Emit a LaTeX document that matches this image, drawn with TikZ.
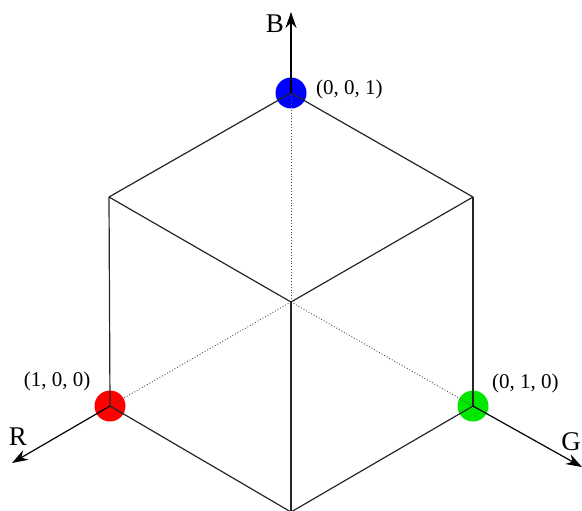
\documentclass[tikz,border=0pt]{standalone}
\usepackage{fontspec}
\setmainfont{Liberation Serif}
\usepackage{xcolor}
\usepackage{tikz}
\usetikzlibrary{arrows.meta, positioning}

\definecolor{rgbred}{RGB}{255,0,0}
\definecolor{rgbgreen}{RGB}{0,232,0}
\definecolor{rgbblue}{RGB}{0,0,255}

\begin{document}
\begin{tikzpicture}[
  x=0.5pt, y=-0.5pt,
  dot/.style={circle, inner sep=0pt, minimum size=15.5pt, draw=none},
  edge/.style={line width=0.6pt, black!85},
  hidden/.style={line width=0.45pt, black!70, densely dotted},
  axis/.style={-{Stealth[length=8pt, width=5.5pt]}, line width=0.6pt},
  axlab/.style={font=\fontsize{13.5}{15}\selectfont},
  vlab/.style={font=\fontsize{10.5}{12}\selectfont},
]
\useasboundingbox (0,0) rectangle (582,510);

% --- Cube corners ---
\coordinate (c)  at (291,302);
\coordinate (ul) at (109,197);
\coordinate (ur) at (473,197);
\coordinate (bt) at (291,512);

% --- Coloured corners ---
\node[dot, fill=rgbblue]  (blue)  at (291,93)  {};
\node[dot, fill=rgbred]   (red)   at (110,406) {};
\node[dot, fill=rgbgreen] (green) at (473,406) {};

% --- Axis tips ---
\coordinate (btip) at (291,12);
\coordinate (rtip) at (12,463);
\coordinate (gtip) at (582,467);

% --- Hidden edges ---
\draw[hidden] (c) -- (blue.center);
\draw[hidden] (c) -- (red.center);
\draw[hidden] (c) -- (green.center);

% --- Visible edges ---
\draw[edge] (c) -- (ul);
\draw[edge] (c) -- (ur);
\draw[edge] (c) -- (bt);
\draw[edge] (blue.center) -- (ul);
\draw[edge] (blue.center) -- (ur);
\draw[edge] (ul) -- (red.center);
\draw[edge] (ur) -- (green.center);
\draw[edge] (red.center) -- (bt);
\draw[edge] (green.center) -- (bt);

% --- Axes ---
\draw[axis] (blue.center) -- (btip);
\draw[axis] (red.center) -- (rtip);
\draw[axis] (green.center) -- (gtip);

\node[axlab, left=0pt of btip, yshift=-6pt] (blab) {B};
\node[axlab] (rlab) at (18,437) {R};
\node[axlab] (glab) at (571,442) {G};

% --- Corner labels ---
\node[vlab, anchor=west] (bcoord) at (309,89)  {(0, 0, 1)};
\node[vlab]              (rcoord) at (57,381)  {(1, 0, 0)};
\node[vlab, anchor=west] (gcoord) at (485,383) {(0, 1, 0)};

\end{tikzpicture}
\end{document}
